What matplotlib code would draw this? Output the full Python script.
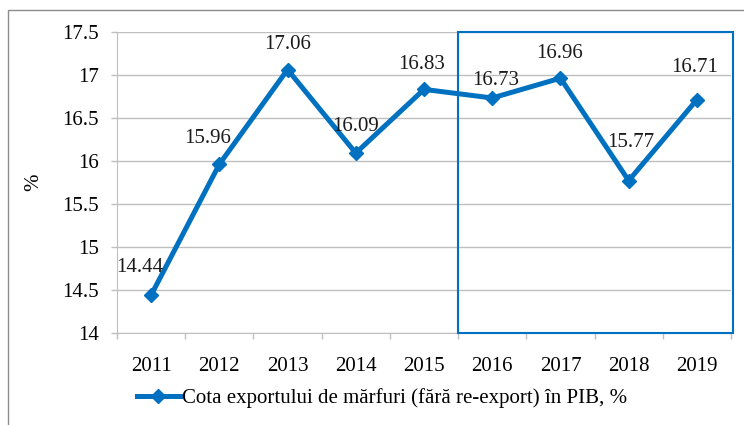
import numpy as np
import matplotlib.pyplot as plt
from matplotlib.patches import Rectangle

years = ['2011', '2012', '2013', '2014', '2015', '2016', '2017', '2018', '2019']
share = [14.44, 15.96, 17.06, 16.09, 16.83, 16.73, 16.96, 15.77, 16.71]
series_name = 'Cota exportului de mărfuri (fără re-export) în PIB, %'

# label offsets from the marker, in pixels (Excel placed them by hand)
label_dx = [-11, -12, 0, 0, -2, 3, -1, 2, -2]
label_dy = [28, 26, 25, 27, 25, 17, 25, 38, 32]

blue = '#0070C0'
grid_gray = '#BFBFBF'
plt.rcParams['font.family'] = ['Liberation Serif', 'DejaVu Serif']
fs = 15

fig = plt.figure(figsize=(7.44, 4.25), dpi=100)
ax = fig.add_axes([117/744, 1 - 333/425, (731-117)/744, (333-31.7)/425])

x = np.arange(len(years)) + 0.5
ax.plot(x, share, color=blue, lw=3.6, marker='D', ms=7, mec=blue, mfc=blue,
        solid_joinstyle='miter', label=series_name, zorder=3)

px = 72 / 100
for xi, v, dx, dy in zip(x, share, label_dx, label_dy):
    ax.annotate(f'{v:.2f}', (xi, v), xytext=(dx*px, dy*px), textcoords='offset points',
                ha='center', va='center', fontsize=fs, color='#1a1a1a', zorder=4)

ax.set_xlim(0, len(years))
ax.set_ylim(14, 17.5)
ax.set_yticks(np.arange(14, 17.51, 0.5))
ax.set_yticklabels(['14', '14.5', '15', '15.5', '16', '16.5', '17', '17.5'])
ax.set_xticks(np.arange(len(years) + 1))
ax.set_xticklabels([])
ax.set_xticks(x, minor=True)
ax.set_xticklabels(years, minor=True)
ax.tick_params(axis='x', which='major', length=4, color=grid_gray, width=1)
ax.tick_params(axis='x', which='minor', length=0, pad=17, labelsize=fs)
ax.tick_params(axis='y', length=4, color=grid_gray, width=1, pad=9, labelsize=fs)
ax.grid(axis='y', color=grid_gray, lw=1)
ax.set_axisbelow(True)
for s in ['top', 'right']:
    ax.spines[s].set_visible(False)
for s in ['left', 'bottom']:
    ax.spines[s].set_color(grid_gray)
ax.set_ylabel('%', fontsize=fs, labelpad=14)

# highlighted period 2016-2019
ax.add_patch(Rectangle((5, 14), 4.03, 3.5, fill=False, ec=blue, lw=1.5,
                       clip_on=False, zorder=5))

ax.legend(loc='center', bbox_to_anchor=(382/744, 1 - 398/425), bbox_transform=fig.transFigure,
          frameon=False, fontsize=fs, handlelength=2.1, handletextpad=0.1)

# outer chart frame (only top and left edges visible in the crop)
fig.add_artist(Rectangle((8/744, -0.1), 1.2, 1.1 - 10/425, transform=fig.transFigure,
                         fill=False, ec='#8c8c8c', lw=1))

fig.savefig('out.png', dpi=100)
